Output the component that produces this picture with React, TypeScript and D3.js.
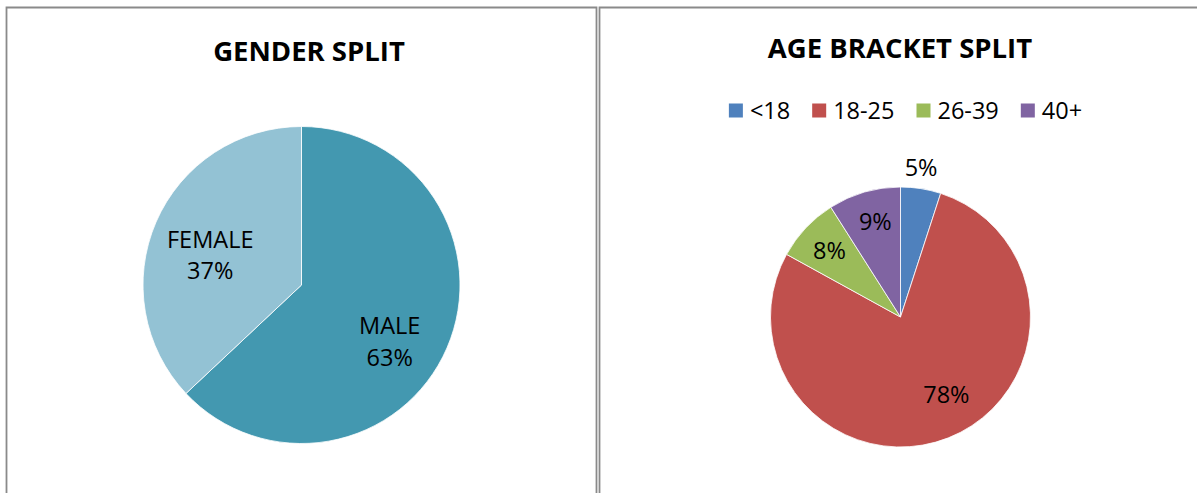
import React, { useEffect, useRef } from "react";
import * as d3 from "d3";

// ---- data ----
const genderCategories = ["MALE", "FEMALE"];
const genderValues = [63, 37];
const genderColors = ["#4398b0", "#93c2d4"];

const ageCategories = ["<18", "18-25", "26-39", "40+"];
const ageValues = [5, 78, 8, 9];
const ageColors = ["#4f81bd", "#c0504d", "#9bbb59", "#8064a2"];

const titles = ["GENDER SPLIT", "AGE BRACKET SPLIT"];

// ---- layout (not data) ----
const W = 1197;
const H = 493;
const FONT = "'Open Sans', 'Liberation Sans', sans-serif";
const LABEL_SIZE = 23.5;
const LEGEND_SIZE = 23.5;

export default function App() {
  const ref = useRef<SVGSVGElement | null>(null);

  useEffect(() => {
    const svg = d3.select(ref.current);
    svg.selectAll("*").remove();

    svg.append("rect").attr("x", 0).attr("y", 0).attr("width", W).attr("height", H).attr("fill", "#fff");

    // panel borders
    const border = "#8a8a8a";
    svg.append("path")
      .attr("d", `M6.5,${H + 5} V7.5 H596.5 V${H + 5}`)
      .attr("fill", "none").attr("stroke", border).attr("stroke-width", 1.8);
    svg.append("path")
      .attr("d", `M599.5,${H + 5} V7.5 H${W + 5}`)
      .attr("fill", "none").attr("stroke", border).attr("stroke-width", 1.8);

    // titles
    svg.append("text").text(titles[0])
      .attr("x", 309).attr("y", 61).attr("text-anchor", "middle")
      .attr("font-family", FONT).attr("font-weight", 700).attr("font-size", 27.5).attr("fill", "#000");
    svg.append("text").text(titles[1])
      .attr("x", 900).attr("y", 58).attr("text-anchor", "middle")
      .attr("font-family", FONT).attr("font-weight", 700).attr("font-size", 27.5).attr("fill", "#000");

    const pie = d3.pie<number>().sort(null).value((d) => d);

    // ---- gender pie ----
    {
      const cx = 301.5, cy = 285, r = 158.5;
      const g = svg.append("g").attr("transform", `translate(${cx},${cy})`);
      const arcs = pie(genderValues);
      const arc = d3.arc<d3.PieArcDatum<number>>().innerRadius(0).outerRadius(r);
      g.selectAll("path.slice").data(arcs).join("path")
        .attr("class", "slice")
        .attr("d", arc as any)
        .attr("fill", (_d, i) => genderColors[i])
        .attr("stroke", "#fff").attr("stroke-width", 0.8);
      const labelArc = d3.arc<d3.PieArcDatum<number>>().innerRadius(r * 0.6).outerRadius(r * 0.6);
      const nudges = [[1, 19], [-4, 8]];
      arcs.forEach((a, i) => {
        const [x, y] = labelArc.centroid(a);
        const t = g.append("text")
          .attr("text-anchor", "middle")
          .attr("font-family", FONT).attr("font-size", LABEL_SIZE).attr("fill", "#000");
        t.append("tspan").attr("x", x + nudges[i][0]).attr("y", y + nudges[i][1] - 7.5).text(genderCategories[i]);
        t.append("tspan").attr("x", x + nudges[i][0]).attr("y", y + nudges[i][1] + 24).text(`${genderValues[i]}%`);
      });
    }

    // ---- age pie ----
    {
      const cx = 900.5, cy = 317, r = 130;
      const g = svg.append("g").attr("transform", `translate(${cx},${cy})`);
      const arcs = pie(ageValues);
      const arc = d3.arc<d3.PieArcDatum<number>>().innerRadius(0).outerRadius(r);
      g.selectAll("path.slice").data(arcs).join("path")
        .attr("class", "slice")
        .attr("d", arc as any)
        .attr("fill", (_d, i) => ageColors[i])
        .attr("stroke", "#fff").attr("stroke-width", 0.8);
      const factors = [1.16, 0.75, 0.75, 0.75];
      const nudges = [[-3, -1], [10, -13], [0, 0], [2, -2]];
      arcs.forEach((a, i) => {
        const la = d3.arc<d3.PieArcDatum<number>>().innerRadius(r * factors[i]).outerRadius(r * factors[i]);
        const [x, y] = la.centroid(a);
        g.append("text")
          .attr("x", x + nudges[i][0]).attr("y", y + nudges[i][1] + 8.5)
          .attr("text-anchor", "middle")
          .attr("font-family", FONT).attr("font-size", LABEL_SIZE).attr("fill", "#000")
          .text(`${ageValues[i]}%`);
      });

      // legend
      const lg = svg.append("g");
      const items = lg.selectAll("g.item").data(ageCategories).join("g").attr("class", "item");
      items.append("rect").attr("width", 14).attr("height", 14).attr("y", 103.5)
        .attr("fill", (_d, i) => ageColors[i]);
      const texts = items.append("text").attr("y", 118.5).attr("x", 21)
        .attr("font-family", FONT).attr("font-size", LEGEND_SIZE).attr("fill", "#000")
        .text((d) => d);
      let x = 0;
      const spacing = 22;
      const widths: number[] = [];
      texts.each(function () {
        widths.push((this as SVGTextElement).getComputedTextLength());
      });
      const total = widths.reduce((s, w) => s + 21 + w, 0) + spacing * (widths.length - 1);
      const start = 905.5 - total / 2;
      items.attr("transform", (_d, i) => {
        const tx = start + x;
        x += 21 + widths[i] + spacing;
        return `translate(${tx},0)`;
      });
    }
  }, []);

  return (
    <svg
      ref={ref}
      width={W}
      height={H}
      style={{ position: "absolute", left: 0, top: 0, display: "block" }}
    />
  );
}
